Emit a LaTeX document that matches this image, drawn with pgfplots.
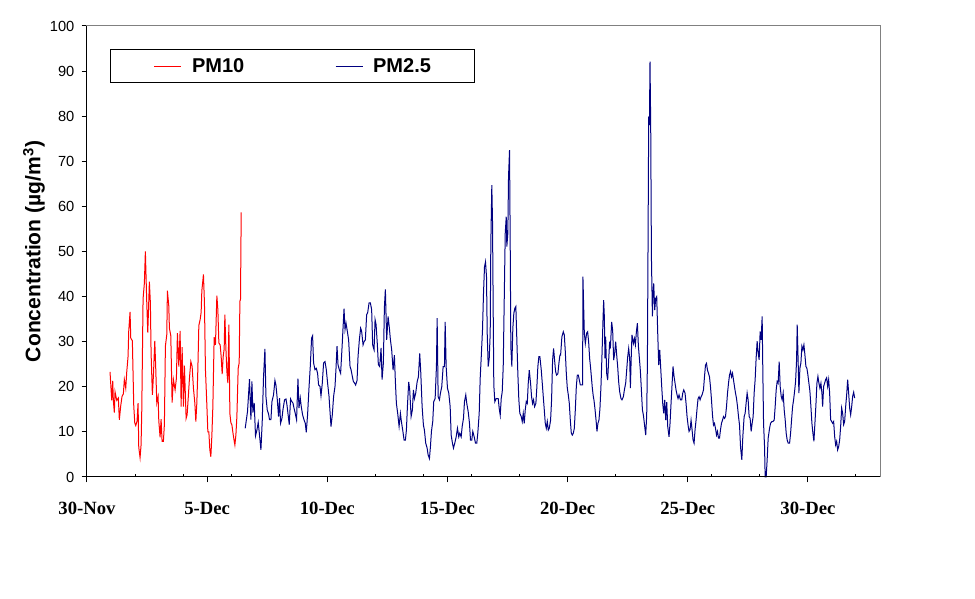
\documentclass[border=0pt]{standalone}
\usepackage{fontspec}
\setmainfont{Liberation Sans}
\newfontfamily\timesfont{Liberation Serif}
\usepackage{pgfplots}
\pgfplotsset{compat=1.18}
\definecolor{pmred}{RGB}{255,0,0}
\definecolor{pmblue}{RGB}{0,0,128}
\definecolor{framegray}{RGB}{128,128,128}
\begin{document}
\begin{tikzpicture}
\useasboundingbox (-65.25pt,-91.5pt) rectangle (666pt,357.75pt);
\begin{axis}[
  scale only axis, width=594.75pt, height=338.25pt,
  at={(0,0)}, anchor=south west,
  xmin=0, xmax=792, ymin=0, ymax=100,
  clip=false,
  axis line style={framegray, line width=0.75pt},
  tick style={black, line width=0.75pt},
  tick align=outside, major tick length=4pt,
  xtick pos=bottom, ytick pos=left,
  xtick={0,120,240,360,480,600,720},
  xticklabels={30-Nov,5-Dec,10-Dec,15-Dec,20-Dec,25-Dec,30-Dec},
  extra x ticks={48,96,144,192,288,336,384,432,528,576,624,672,768},
  extra x tick labels={},
  extra x tick style={tick align=inside, major tick length=2.25pt},
  xticklabel style={font=\timesfont\fontsize{14}{16}\selectfont\bfseries, anchor=north, inner sep=0pt, yshift=-14.75pt},
  ytick={0,10,...,100},
  yticklabel style={font=\fontsize{11}{13}\selectfont, anchor=east, inner sep=0pt, xshift=-5.25pt},
  /pgf/number format/assume math mode=true,
  ylabel={Concentration (µg/m\textsuperscript{3})},
  ylabel style={at={(axis description cs:-0.067,0.5)}, anchor=center, font=\fontsize{15.8}{18}\selectfont\bfseries},
  legend columns=2,
  legend image code/.code={\draw[#1, line width=0.9pt] (0pt,0pt) -- (20.25pt,0pt);},
  legend style={at={(0.029,0.949)}, anchor=north west, draw=black, line width=0.75pt,
    inner xsep=32.5pt, inner ysep=6.5pt,
    font=\fontsize{15}{17}\selectfont\bfseries,
    nodes={inner sep=0pt},
    /tikz/every odd column/.append style={column sep=7.5pt},
    /tikz/every even column/.append style={column sep=68pt}},
]
\addplot[pmred, line width=0.75pt] coordinates {
(23.0,23.3)(24.7,17.0)(25.7,21.3)(26.3,17.0)(27.3,14.3)(28.0,18.9)(29.7,17.0)(31.3,17.5)(32.3,12.7)(33.7,15.8)(35.0,17.9)(36.3,18.4)(37.3,21.6)(38.7,19.7)(39.7,23.3)(41.0,26.7)(41.7,32.4)(43.0,36.6)(43.7,30.8)(45.3,30.2)(46.0,23.0)(46.7,15.8)(47.7,12.0)(48.7,11.4)(50.0,12.4)(51.0,16.4)(51.7,6.6)(53.0,4.3)(54.0,7.1)(54.7,14.7)(56.0,39.5)(57.3,43.0)(58.3,50.0)(59.7,38.6)(60.7,32.0)(61.7,39.0)(62.3,43.3)(63.3,38.6)(64.0,27.5)(65.3,18.2)(66.3,22.3)(67.7,30.2)(68.7,23.8)(69.7,16.4)(71.0,17.8)(71.7,12.5)(73.0,8.8)(74.0,12.8)(75.0,7.9)(76.3,7.9)(77.3,11.7)(78.3,29.0)(79.7,31.6)(80.3,41.3)(81.7,37.9)(82.3,33.0)(83.7,31.3)(85.0,16.5)(86.3,21.6)(88.0,19.3)(89.3,21.9)(90.3,31.9)(91.7,24.5)(93.0,32.4)(94.0,15.6)(95.0,28.8)(96.3,15.6)(97.3,24.7)(99.0,13.0)(100.0,13.8)(101.3,18.2)(102.3,21.8)(103.7,25.6)(105.0,24.5)(106.3,19.7)(107.7,16.4)(108.7,12.3)(109.7,16.4)(110.7,23.8)(111.7,33.6)(113.0,34.9)(114.0,36.5)(114.7,41.3)(116.3,44.9)(117.3,38.6)(118.3,23.8)(119.7,16.0)(120.7,10.0)(121.7,10.0)(122.7,6.0)(123.7,4.5)(124.7,9.1)(125.7,15.6)(127.0,31.0)(128.3,29.3)(129.7,40.2)(130.7,37.1)(131.7,29.7)(133.0,29.3)(134.0,26.7)(135.0,22.8)(136.0,26.7)(137.0,28.4)(137.7,36.0)(138.7,28.6)(139.7,23.4)(140.7,20.8)(141.7,33.8)(142.7,14.1)(143.7,12.0)(144.7,11.6)(145.7,9.9)(146.7,8.4)(147.7,7.1)(148.7,9.3)(149.7,13.4)(151.0,24.1)(152.0,25.3)(152.7,39.0)(153.3,39.3)(154.0,58.7)
};
\addlegendentry{PM10}
\addplot[pmblue, line width=0.75pt] coordinates {
(158.0,10.8)(160.3,14.5)(162.3,21.7)(163.7,12.7)(164.7,21.2)(165.7,14.3)(167.0,16.4)(168.3,9.1)(169.7,10.4)(171.0,12.1)(172.3,9.3)(173.7,6.0)(175.0,12.3)(176.3,22.1)(177.7,28.4)(178.7,17.9)(180.0,14.9)(181.3,14.0)(182.3,12.7)(183.7,12.7)(184.7,16.7)(186.3,18.2)(187.7,21.4)(188.7,20.4)(190.0,17.3)(191.3,13.4)(192.3,17.5)(193.3,11.9)(194.7,13.0)(195.7,14.9)(197.3,17.1)(198.7,17.3)(199.7,16.0)(200.7,14.1)(202.0,11.6)(203.3,17.3)(204.3,16.8)(205.7,16.4)(206.7,15.3)(208.0,14.1)(209.3,12.7)(210.7,21.8)(211.7,15.3)(213.0,17.5)(214.0,15.6)(215.3,13.8)(216.7,12.7)(218.0,11.9)(219.0,9.9)(220.3,13.8)(221.7,19.7)(223.0,24.5)(224.3,30.8)(225.3,31.3)(226.3,25.3)(227.7,23.8)(229.0,24.1)(230.3,23.0)(231.3,20.4)(232.7,20.1)(233.7,18.0)(235.0,20.8)(236.3,25.3)(237.7,25.6)(239.0,23.8)(240.3,20.8)(241.7,17.9)(242.7,14.5)(243.7,11.2)(245.0,13.8)(246.3,17.9)(247.7,20.1)(248.7,24.1)(249.7,29.0)(250.7,24.9)(252.0,23.8)(253.3,23.0)(254.7,28.6)(255.7,33.0)(256.7,37.3)(257.7,32.7)(258.7,34.1)(260.0,32.3)(261.3,30.4)(262.7,24.5)(263.7,23.8)(265.0,22.3)(266.0,21.2)(267.3,20.8)(268.3,20.4)(269.7,21.4)(270.7,26.7)(272.0,30.4)(273.3,33.0)(274.3,32.3)(275.7,29.3)(276.7,30.0)(278.0,30.4)(279.3,36.0)(280.3,36.4)(281.7,38.6)(283.0,38.6)(284.3,37.1)(285.3,29.3)(286.7,28.2)(287.7,34.9)(288.7,33.8)(290.0,29.3)(291.0,24.9)(292.3,24.5)(293.7,28.6)(294.7,21.6)(296.0,25.3)(297.0,37.5)(298.0,41.6)(299.3,30.4)(300.7,35.6)(302.0,33.0)(303.0,30.5)(304.3,28.2)(305.7,23.7)(307.0,27.0)(308.0,21.1)(309.0,16.3)(310.3,14.1)(311.7,11.2)(313.0,14.1)(314.0,12.3)(315.3,10.4)(316.7,8.2)(318.0,8.2)(319.0,10.4)(320.0,15.6)(321.3,21.1)(322.3,19.3)(323.7,13.4)(325.0,14.9)(326.0,19.3)(327.0,17.4)(328.3,18.6)(329.7,21.1)(331.0,22.2)(332.3,27.4)(333.3,23.4)(334.7,15.6)(336.0,11.5)(337.0,10.4)(338.3,7.5)(339.7,6.4)(340.7,4.9)(342.0,4.1)(343.0,6.7)(344.0,10.1)(345.3,12.3)(346.3,16.7)(347.7,17.4)(349.0,24.5)(349.7,35.2)(350.7,17.8)(352.0,17.1)(353.0,18.6)(354.3,20.0)(355.7,24.5)(357.0,24.5)(357.7,34.4)(358.7,24.5)(360.0,19.7)(361.3,18.6)(362.7,15.6)(363.7,9.3)(365.0,7.5)(366.0,6.4)(367.3,7.5)(368.7,8.9)(370.0,10.8)(371.3,8.9)(372.3,9.7)(373.7,8.9)(374.7,11.2)(376.0,13.0)(377.0,16.7)(378.3,18.2)(379.3,16.3)(380.7,14.5)(382.0,11.9)(383.0,8.2)(384.3,8.2)(385.3,10.1)(386.7,8.9)(388.0,7.5)(389.3,7.5)(390.3,9.7)(391.7,14.1)(392.7,21.9)(394.0,27.8)(395.0,32.6)(396.0,40.7)(397.0,46.6)(398.0,47.7)(399.0,44.4)(399.7,31.9)(400.7,24.5)(401.7,26.2)(402.7,31.9)(403.3,51.4)(404.3,64.7)(405.0,56.6)(405.7,36.3)(406.3,20.4)(407.3,16.7)(408.7,17.4)(409.7,17.4)(410.7,17.4)(411.7,15.2)(412.7,13.7)(413.7,17.4)(414.7,18.9)(415.7,24.5)(416.7,39.2)(417.7,54.0)(418.7,57.7)(419.3,51.1)(420.3,54.0)(421.0,66.6)(422.0,72.5)(422.7,50.7)(423.3,28.9)(424.3,24.5)(425.3,33.0)(426.3,36.3)(427.3,37.4)(428.3,37.8)(429.3,30.4)(430.3,23.0)(431.3,17.1)(432.3,14.1)(433.7,13.4)(434.7,12.3)(435.7,14.1)(436.7,11.9)(437.7,14.9)(438.7,16.7)(439.7,16.3)(440.7,20.8)(441.7,23.7)(443.0,20.8)(444.0,17.8)(445.0,16.3)(446.0,17.1)(447.0,15.6)(448.3,16.3)(449.3,20.0)(450.3,24.5)(451.3,26.7)(452.3,26.7)(453.7,23.7)(454.7,20.8)(455.7,17.8)(456.7,14.9)(457.7,11.9)(458.7,10.8)(459.7,12.3)(460.7,10.4)(461.7,10.8)(463.0,12.6)(464.0,17.1)(465.0,25.9)(466.0,28.5)(467.0,25.9)(468.0,23.4)(469.0,22.6)(470.3,22.9)(471.3,25.2)(472.3,27.0)(473.0,27.0)(474.3,31.1)(475.7,32.2)(476.7,31.5)(477.7,27.8)(478.7,23.0)(479.7,19.7)(480.7,18.2)(481.7,16.3)(482.7,12.6)(483.7,9.7)(484.7,9.3)(485.7,9.7)(486.7,10.8)(487.7,14.9)(488.7,20.0)(489.7,22.6)(490.7,22.6)(491.7,21.5)(492.7,20.4)(493.7,20.4)(495.0,20.4)(495.3,44.4)(496.0,38.1)(496.7,31.9)(497.7,29.6)(499.0,31.9)(500.0,32.2)(501.0,30.0)(502.0,26.3)(503.0,24.1)(504.7,19.7)(505.7,17.8)(506.3,17.1)(507.3,15.2)(508.7,11.9)(509.3,10.1)(510.3,11.9)(511.3,12.6)(512.3,15.2)(513.3,20.0)(514.3,26.7)(515.3,34.4)(516.0,39.2)(516.7,35.5)(517.3,26.3)(518.0,31.1)(519.0,23.0)(520.0,21.5)(521.0,25.9)(522.0,30.0)(522.7,28.5)(524.0,34.4)(525.0,32.5)(526.0,25.9)(527.0,27.4)(528.0,30.0)(529.0,27.1)(530.0,24.5)(531.0,21.1)(532.0,18.9)(533.3,17.4)(534.3,17.1)(535.7,17.8)(536.7,19.3)(538.0,20.8)(539.0,23.7)(540.0,26.6)(541.0,28.5)(542.0,26.3)(542.7,19.7)(543.7,27.8)(544.3,31.5)(545.7,29.6)(546.7,30.7)(547.7,29.3)(548.7,32.2)(549.7,34.1)(550.7,29.0)(551.7,26.3)(552.7,23.4)(553.7,19.3)(554.7,14.9)(555.7,13.7)(557.0,11.2)(558.0,9.3)(559.0,13.7)(559.7,25.6)(560.3,50.3)(561.0,79.9)(561.7,78.0)(562.3,92.1)(563.0,77.7)(563.7,48.9)(564.7,35.6)(565.3,40.7)(566.0,42.9)(567.0,37.0)(568.0,39.6)(569.0,40.0)(570.0,31.9)(571.0,24.8)(572.0,28.2)(573.0,24.1)(574.0,20.0)(575.0,16.3)(576.0,14.1)(577.0,17.1)(578.0,12.6)(579.0,16.6)(580.0,11.2)(581.3,8.9)(582.3,11.9)(583.3,16.3)(584.3,20.4)(585.3,24.5)(586.3,22.3)(587.3,20.8)(588.3,19.3)(589.3,18.2)(590.3,17.4)(591.3,18.2)(592.7,17.1)(594.0,17.1)(595.0,18.6)(596.0,19.3)(597.3,18.6)(598.3,16.3)(599.3,13.4)(600.3,11.5)(601.3,10.1)(602.3,10.5)(603.3,12.6)(604.3,10.5)(605.3,8.2)(606.3,7.5)(607.3,10.5)(608.3,12.6)(609.3,15.2)(610.3,17.4)(611.3,17.8)(612.3,17.1)(613.3,17.8)(614.3,18.2)(615.7,19.3)(616.7,22.2)(617.7,24.8)(618.7,25.2)(619.7,23.7)(620.7,23.0)(621.7,22.2)(622.7,20.0)(623.7,17.1)(624.7,13.7)(625.7,11.5)(626.7,11.9)(627.7,10.8)(628.7,9.3)(629.7,10.1)(630.7,8.6)(631.7,8.6)(632.7,10.5)(633.7,11.9)(634.7,12.6)(635.7,13.4)(636.7,13.0)(637.7,13.4)(638.7,15.6)(639.7,18.6)(640.7,20.8)(641.7,22.6)(642.7,23.4)(643.7,22.2)(644.7,23.0)(645.7,21.5)(646.7,20.0)(647.7,18.6)(648.7,17.4)(649.7,15.6)(650.7,13.4)(651.7,11.5)(652.7,6.7)(654.0,3.8)(655.0,9.0)(656.3,13.4)(657.3,14.1)(658.3,16.4)(659.3,18.6)(660.3,17.1)(661.3,13.4)(662.3,13.0)(663.3,10.1)(664.3,11.9)(665.3,13.4)(666.3,18.6)(667.3,21.6)(668.3,26.4)(669.3,30.1)(670.3,27.5)(671.3,26.0)(672.3,32.3)(673.3,30.4)(674.3,35.6)(675.0,23.0)(675.7,11.9)(676.7,6.7)(677.3,0.0)(678.3,0.0)(679.3,3.8)(680.3,8.6)(681.7,10.8)(682.7,11.9)(684.0,12.3)(685.0,12.3)(686.3,12.6)(687.3,15.6)(688.3,19.3)(689.3,21.2)(690.3,20.8)(691.3,25.6)(692.3,20.1)(693.3,17.9)(694.3,17.1)(695.3,18.6)(696.3,14.9)(697.3,12.7)(698.3,9.7)(699.3,8.2)(700.3,7.5)(701.7,7.5)(702.7,9.7)(703.7,12.7)(704.7,15.6)(705.7,17.1)(706.7,19.0)(707.7,21.2)(708.7,26.0)(709.3,33.8)(710.0,27.9)(711.0,18.6)(712.0,24.1)(713.0,25.3)(714.0,29.0)(715.0,28.2)(716.0,29.3)(717.0,27.1)(718.0,24.5)(719.0,24.1)(720.0,22.6)(721.0,20.8)(722.0,19.0)(723.0,15.6)(724.0,11.9)(725.0,9.7)(726.0,7.9)(727.0,11.9)(728.0,16.0)(729.0,20.8)(730.0,22.3)(731.0,20.8)(732.0,19.7)(733.0,20.8)(734.0,18.6)(734.7,15.6)(735.7,20.1)(736.7,20.8)(737.7,21.6)(738.7,22.0)(739.7,20.1)(740.7,21.6)(741.7,18.6)(742.7,12.7)(743.7,12.3)(744.7,11.9)(745.7,12.3)(746.7,9.0)(747.7,7.1)(748.7,7.9)(749.7,6.0)(750.7,6.7)(751.7,8.2)(752.7,11.2)(753.7,15.3)(754.7,14.1)(755.7,11.6)(756.7,12.3)(757.7,15.6)(758.7,18.2)(759.7,21.6)(760.7,18.6)(761.7,15.3)(762.7,13.8)(763.7,15.6)(764.7,17.9)(765.7,18.8)(766.7,17.5)
};
\addlegendentry{PM2.5}
\draw[black, line width=0.75pt] (rel axis cs:0,1) -- (rel axis cs:0,0) -- (rel axis cs:1,0);
\end{axis}
\end{tikzpicture}
\end{document}
